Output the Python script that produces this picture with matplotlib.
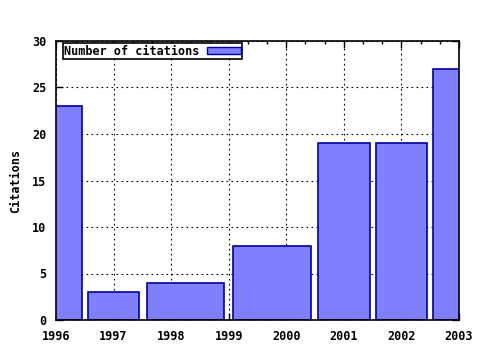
import numpy as np
import matplotlib.pyplot as plt
from matplotlib.patches import Patch
from matplotlib.ticker import MultipleLocator

# Citações por ano (1999 sem dado)
anos = [1996, 1997, 1998, 2000, 2001, 2002, 2003]
citacoes = [23, 3, 4, 8, 19, 19, 27]

# largura das caixas como no gnuplot: até o meio dos vizinhos, fator 0.9
anos_arr = np.array(anos, dtype=float)
meios = (anos_arr[1:] + anos_arr[:-1]) / 2
esq = np.concatenate([[anos_arr[0] - (meios[0] - anos_arr[0])], meios])
dir_ = np.concatenate([meios, [anos_arr[-1] + (anos_arr[-1] - meios[-1])]])
centros = (esq + dir_) / 2
larguras = (dir_ - esq) * 0.9

fonte = dict(family='DejaVu Sans Mono', weight='bold', size=8.5)

fig = plt.figure(figsize=(4.8, 3.5), dpi=100)
ax = fig.add_axes([56 / 480, 1 - 320 / 350, (459 - 56) / 480, (320 - 41) / 350])

ax.bar(centros, citacoes, width=larguras, color='#8080ff', edgecolor='#0000a0',
       linewidth=1.2, zorder=3)

ax.set_xlim(1996, 2003)
ax.set_ylim(0, 30)
ax.xaxis.set_major_locator(MultipleLocator(1))
ax.xaxis.set_minor_locator(MultipleLocator(1 / 3))
ax.yaxis.set_major_locator(MultipleLocator(5))
ax.grid(True, which='major', color='black', linestyle=(0, (1.5, 3)), linewidth=0.8, zorder=1)
ax.tick_params(which='both', direction='in', top=True, right=True, width=1, color='black')
ax.tick_params(which='major', length=5)
ax.tick_params(which='minor', length=2.5)
ax.tick_params(axis='x', which='major', pad=7)
ax.tick_params(axis='y', which='major', pad=7)
for s in ax.spines.values():
    s.set_linewidth(1.2)
    s.set_zorder(4)

ax.set_xticks(range(1996, 2004))
ax.set_xticklabels([str(a) for a in range(1996, 2004)], fontdict=fonte)
ax.set_yticks(range(0, 31, 5))
ax.set_yticklabels([str(v) for v in range(0, 31, 5)], fontdict=fonte)
ax.set_ylabel('Citations', fontdict=fonte, labelpad=7)

leg = ax.legend(handles=[Patch(facecolor='#8080ff', edgecolor='#0000a0', linewidth=1)],
                labels=['Number of citations'], loc='upper left', markerfirst=False,
                prop=dict(family='DejaVu Sans Mono', weight='bold', size=8.5),
                fancybox=False, framealpha=1, edgecolor='black', borderpad=0.1,
                handlelength=2.9, handleheight=0.6, handletextpad=0.6,
                borderaxespad=0.2, bbox_to_anchor=(0.012, 1.0))
leg.get_frame().set_linewidth(1.2)
leg.set_zorder(5)

fig.savefig('out.png', dpi=100)
